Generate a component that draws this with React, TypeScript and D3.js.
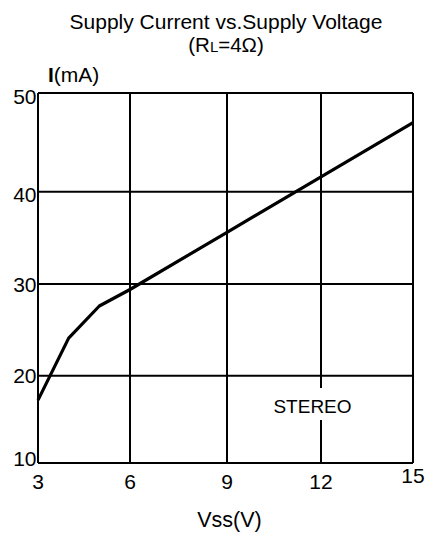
import React from "react";
import * as d3 from "d3";

const voltages = [3, 4, 5, 6, 9, 12, 15];
const currents = [17.2, 24.1, 27.6, 29.4, 35.6, 41.5, 47.0];
const xTicks = [3, 6, 9, 12, 15];
const yTicks = [10, 20, 30, 40, 50];

const W = 425, H = 536;
// grid positions of the original (slightly uneven spacing)
const xRange = [38, 130, 227, 321, 413];
const yRange = [463, 375.7, 284, 191.7, 93];

export default function App() {
  const x = d3.scaleLinear().domain(xTicks).range(xRange);
  const y = d3.scaleLinear().domain(yTicks).range(yRange);
  const line = d3
    .line<number>()
    .x((_, i) => x(voltages[i]))
    .y((d) => y(d));
  const font = "Liberation Sans, Arial, sans-serif";
  const yOff: Record<number, number> = { 50: 3, 40: 3, 30: 0, 20: 0, 10: -5 };
  const stereoX = 312.5, stereoY = 413;
  return (
    <svg
      width={W}
      height={H}
      style={{ position: "absolute", left: 0, top: 0, background: "#fff" }}
      fontFamily={font}
    >
      <text x={226} y={28.5} textAnchor="middle" fontSize={21}>
        Supply Current vs.Supply Voltage
      </text>
      <text x={226} y={52} textAnchor="middle" fontSize={20.5}>
        (R<tspan fontSize={15}>L</tspan>=4Ω)
      </text>
      <text x={48} y={82} fontSize={21}>
        <tspan fontWeight="bold">I</tspan>(mA)
      </text>
      {xTicks.map((t) => (
        <line key={"gx" + t} x1={x(t)} x2={x(t)} y1={y(10)} y2={y(50)} stroke="#000" strokeWidth={2} />
      ))}
      {yTicks.map((t) => (
        <line key={"gy" + t} x1={x(3)} x2={x(15)} y1={y(t)} y2={y(t)} stroke="#000" strokeWidth={2} />
      ))}
      <path d={line(currents) || ""} fill="none" stroke="#000" strokeWidth={3.2} strokeLinejoin="round" />
      {yTicks.map((t) => (
        <text
          key={"yl" + t}
          x={36.5}
          y={y(t) + yOff[t]}
          textAnchor="end"
          dominantBaseline="central"
          fontSize={21}
        >
          {t}
        </text>
      ))}
      {xTicks.map((t) => (
        <text
          key={"xl" + t}
          x={x(t)}
          y={y(10) + (t === 15 ? 12 : 18.5)}
          textAnchor="middle"
          dominantBaseline="central"
          fontSize={21}
        >
          {t}
        </text>
      ))}
      <rect x={stereoX - 40} y={stereoY - 25} width={80} height={32} fill="#fff" />
      <text x={stereoX} y={stereoY} textAnchor="middle" fontSize={19}>
        STEREO
      </text>
      <text x={229.5} y={527} textAnchor="middle" fontSize={21.5}>
        Vss(V)
      </text>
    </svg>
  );
}
